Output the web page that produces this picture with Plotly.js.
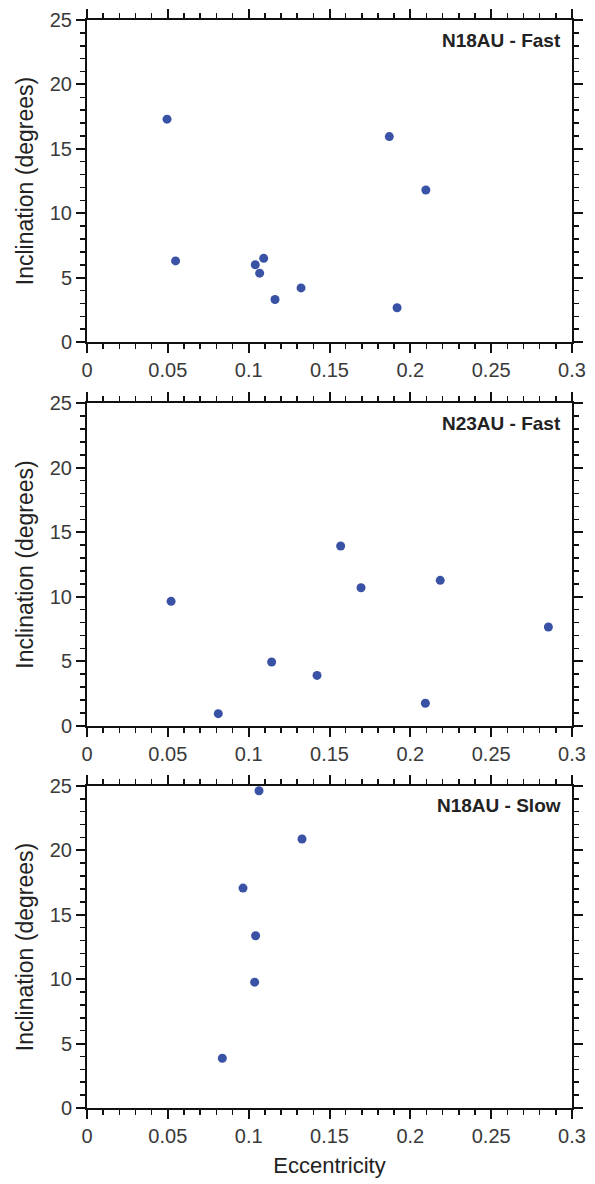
<!DOCTYPE html>
<html>
<head>
<meta charset="utf-8">
<script src="https://cdn.plot.ly/plotly-3.0.1.min.js"></script>
<style>html,body{margin:0;padding:0;background:#fff;}#chart{width:595px;height:1184px;}</style>
</head>
<body>
<div id="chart"></div>
<script>
// Panel titles
const panelTitles = ["N18AU - Fast", "N23AU - Fast", "N18AU - Slow"];

// N18AU - Fast
const eccN18Fast = [0.0495, 0.0548, 0.1041, 0.1093, 0.1068, 0.1163, 0.1324, 0.187, 0.2096, 0.1918];
const incN18Fast = [17.3, 6.3, 6.0, 6.5, 5.35, 3.3, 4.2, 15.95, 11.8, 2.66];

// N23AU - Fast
const eccN23Fast = [0.052, 0.0812, 0.1142, 0.1423, 0.1569, 0.1695, 0.2185, 0.2093, 0.2854];
const incN23Fast = [9.64, 0.93, 4.94, 3.9, 13.93, 10.7, 11.27, 1.74, 7.65];

// N18AU - Slow
const eccN18Slow = [0.1064, 0.0965, 0.1043, 0.1037, 0.0837, 0.133];
const incN18Slow = [24.63, 17.07, 13.37, 9.77, 3.86, 20.88];

// Axis ticks
const xTickVals = [0, 0.05, 0.1, 0.15, 0.2, 0.25, 0.3];
const xTickText = ["0", "0.05", "0.1", "0.15", "0.2", "0.25", "0.3"];
const yTickVals = [0, 5, 10, 15, 20, 25];

const markerColor = '#3a52a5';
const fontFam = 'Arial, "Liberation Sans", Helvetica, sans-serif';

const series = [[eccN18Fast, incN18Fast], [eccN23Fast, incN23Fast], [eccN18Slow, incN18Slow]];
const domains = [[0.7040, 1.0], [0.3514, 0.6477], [0.0, 0.2960]];

const traces = series.map((s, i) => ({
  type: 'scatter', mode: 'markers',
  x: s[0], y: s[1],
  xaxis: i === 0 ? 'x' : 'x' + (i + 1),
  yaxis: i === 0 ? 'y' : 'y' + (i + 1),
  marker: {color: markerColor, size: 9},
  cliponaxis: false,
  showlegend: false,
  hoverinfo: 'x+y'
}));

const layout = {
  width: 595, height: 1184,
  margin: {l: 87, r: 23, t: 20, b: 76},
  paper_bgcolor: '#fff', plot_bgcolor: '#fff',
  font: {family: fontFam, color: '#333', size: 19},
  showlegend: false,
  annotations: []
};

for (let i = 0; i < 3; i++) {
  const xk = i === 0 ? 'xaxis' : 'xaxis' + (i + 1);
  const yk = i === 0 ? 'yaxis' : 'yaxis' + (i + 1);
  const yref = i === 0 ? 'y' : 'y' + (i + 1);
  const xref = i === 0 ? 'x' : 'x' + (i + 1);
  layout[xk] = {
    anchor: yref, domain: [0, 1], range: [0, 0.3],
    tickmode: 'array', tickvals: xTickVals, ticktext: xTickText,
    ticks: 'outside', ticklen: 9, tickwidth: 2, tickcolor: '#111',
    minor: {dtick: 0.01, ticks: 'outside', ticklen: 5, tickwidth: 1.5, tickcolor: '#111', showgrid: false},
    showline: true, linecolor: '#111', linewidth: 2, mirror: 'allticks',
    showgrid: false, zeroline: false,
    tickfont: {family: fontFam, size: 20, color: '#3a3a3a'},
    fixedrange: true
  };
  if (i === 2) {
    layout[xk].title = {text: 'Eccentricity', font: {family: fontFam, size: 22, color: '#222'}, standoff: 12};
  }
  layout[yk] = {
    anchor: xref, domain: domains[i], range: [0, 25],
    tickmode: 'array', tickvals: yTickVals,
    ticks: 'outside', ticklen: 9, tickwidth: 2, tickcolor: '#111',
    minor: {dtick: 1, ticks: 'outside', ticklen: 5, tickwidth: 1.5, tickcolor: '#111', showgrid: false},
    showline: true, linecolor: '#111', linewidth: 2, mirror: 'allticks',
    showgrid: false, zeroline: false,
    tickfont: {family: fontFam, size: 20, color: '#3a3a3a'},
    title: {text: 'Inclination (degrees)', font: {family: fontFam, size: 23, color: '#222'}, standoff: 10},
    fixedrange: true
  };
  layout.annotations.push({
    text: '<b>' + panelTitles[i] + '</b>',
    xref: xref + ' domain', yref: yref + ' domain',
    x: 1, y: 1, xanchor: 'right', yanchor: 'middle',
    xshift: -9, yshift: -20, showarrow: false,
    font: {family: fontFam, size: 19, color: '#222'}
  });
}

Plotly.newPlot('chart', traces, layout, {displayModeBar: false, staticPlot: true});
</script>
</body>
</html>
